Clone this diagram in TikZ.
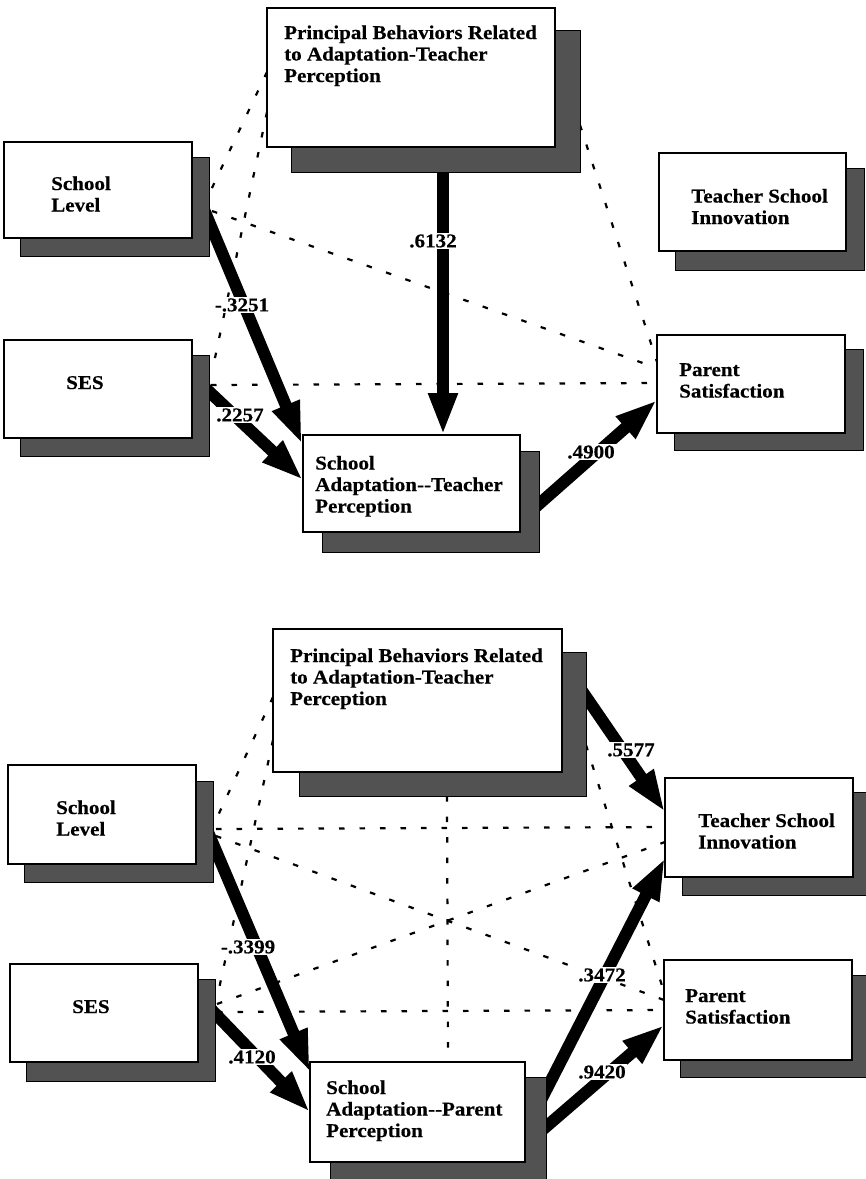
\documentclass[tikz,border=0pt]{standalone}
\usepackage{fontspec}
\setmainfont{Liberation Serif}[FakeStretch=1.08, BoldFeatures={FakeBold=0.4}]
\usetikzlibrary{arrows.meta,calc}
\pgfdeclarelayer{bg}
\pgfsetlayers{bg,main}
\tikzset{
  boxn/.style={draw=black, line width=1.4pt, fill=white, inner sep=0pt, outer sep=0pt, anchor=north west},
  shadn/.style={draw=black, line width=0.8pt, fill=black!68, inner sep=0pt, outer sep=0pt, anchor=north west},
  txt/.style={font=\bfseries\fontsize{19.5}{21.5}\selectfont, inner sep=0pt, anchor=base west},
  lab/.style={font=\bfseries\fontsize{19.5}{21.5}\selectfont, fill=white, inner sep=1.5pt},
  corr/.style={line width=2.2pt, dash pattern=on 5.5pt off 15pt},
  eff/.style={line width=12pt, -{Triangle[length=42pt,width=27pt]}},
}
\newcommand\shbox[9]{%
  \node[shadn, minimum width={(#8-#6)*1pt}, minimum height={(#9-#7)*1pt}] (#1s) at (#6,#7) {};
  \node[boxn, minimum width={(#4-#2)*1pt}, minimum height={(#5-#3)*1pt}] (#1) at (#2,#3) {};
}
\newcommand\ml[1]{\begin{tabular}[t]{@{}l@{}}#1\end{tabular}}
\begin{document}
\begin{tikzpicture}[x=1pt,y=-1pt]
\useasboundingbox (0,0) rectangle (866,1179);
% ---------------- top diagram ----------------
\shbox{pa}{267}{8}{555}{147}{291}{30}{580}{172}
\shbox{sla}{4}{142}{192}{238}{20}{157}{209}{256}
\shbox{sesa}{4}{340}{192}{438}{20}{355}{209}{456}
\shbox{tsia}{659}{153}{846}{251}{675}{168}{864}{270}
\shbox{psa}{657}{335}{845}{433}{674}{349}{863}{450}
\shbox{saa}{303}{435}{520}{532}{322}{451}{539}{552}
\node[txt] (tpa) at ($(pa.north west)+(17,31)$) {\ml{Principal Behaviors Related\\to Adaptation-Teacher\\Perception}};
\node[txt] (tsla) at ($(sla.north west)+(47,48)$) {\ml{School\\Level}};
\node[txt] (tsesa) at ($(sesa.north west)+(62,49)$) {SES};
\node[txt] (ttsia) at ($(tsia.north west)+(32,49.5)$) {\ml{Teacher School\\Innovation}};
\node[txt] (tpsa) at ($(psa.north west)+(22,41)$) {\ml{Parent\\Satisfaction}};
\node[txt] (tsaa) at ($(saa.north west)+(12,34.5)$) {\ml{School\\Adaptation-\kern0pt-Teacher\\Perception}};
\begin{pgfonlayer}{bg}
  \draw[corr] ($(pa.north west)+(0,64)$) -- ($(slas.north east)+(2,33)$);
  \draw[corr] ($(pa.north west)+(0,104)$) -- ($(sesas.north east)+(3,17)$);
  \draw[corr] ($(slas.north east)+(3,54)$) -- ($(psa.north west)+(0,33)$);
  \draw[corr] ($(sesas.north east)+(2,30)$) -- ($(psa.north west)+(0,48)$);
  \draw[corr] ($(pas.north east)+(0,95)$) -- ($(psa.north west)+(0,27)$);
  \draw[eff] ($(pas.south west)+(152,-4)$) -- ($(saa.north west)+(140,0)$);
  \draw[eff] ($(slas.north east)+(-9,43)$) -- ($(saa.north west)+(-1,9)$);
  \draw[eff] ($(sesas.north east)+(-9,28)$) -- ($(saa.north west)+(0,45)$);
  \draw[eff] ($(saas.north east)+(-9,61)$) -- ($(psa.north west)+(0,65)$);
\end{pgfonlayer}
\node[lab] (la1) at (433,241) {.6132};
\node[lab] (la2) at (242,305) {-.3251};
\node[lab] (la3) at (240,415) {.2257};
\node[lab] (la4) at (591,452) {.4900};
% ---------------- bottom diagram ----------------
\shbox{pb}{273}{629}{562}{772}{299}{652}{586}{796}
\shbox{slb}{8}{765}{196}{864}{24}{781}{213}{882}
\shbox{sesb}{10}{964}{198}{1062}{26}{979}{215}{1081}
\shbox{tsib}{665}{778}{853}{877}{682}{792}{872}{895}
\shbox{psb}{664}{960}{852}{1060}{680}{975}{870}{1077}
\shbox{sab}{310}{1062}{525}{1162}{330}{1077}{546}{1184}
\node[txt] (tpb) at ($(pb.north west)+(17,33)$) {\ml{Principal Behaviors Related\\to Adaptation-Teacher\\Perception}};
\node[txt] (tslb) at ($(slb.north west)+(48,49)$) {\ml{School\\Level}};
\node[txt] (tsesb) at ($(sesb.north west)+(62,49)$) {SES};
\node[txt] (ttsib) at ($(tsib.north west)+(33,49)$) {\ml{Teacher School\\Innovation}};
\node[txt] (tpsb) at ($(psb.north west)+(21,42)$) {\ml{Parent\\Satisfaction}};
\node[txt] (tsab) at ($(sab.north west)+(16,32)$) {\ml{School\\Adaptation-\kern0pt-Parent\\Perception}};
\begin{pgfonlayer}{bg}
  \draw[corr] ($(pb.north west)+(0,68)$) -- ($(slbs.north east)+(2,41)$);
  \draw[corr] ($(pb.north west)+(0,111)$) -- ($(sesbs.north east)+(2,19)$);
  \draw[corr] ($(slbs.north east)+(3,48)$) -- ($(tsib.north west)+(0,49)$);
  \draw[corr] ($(slbs.north east)+(3,55)$) -- ($(psb.north west)+(0,40)$);
  \draw[corr] ($(sesbs.north east)+(2,25)$) -- ($(tsib.north west)+(0,64)$);
  \draw[corr] ($(sesbs.north east)+(2,33)$) -- ($(psb.north west)+(0,50)$);
  \draw[corr] ($(pbs.south west)+(148,0)$) -- ($(sab.north west)+(138,0)$);
  \draw[corr] ($(pbs.north east)+(0,93)$) -- ($(psb.north west)+(0,32)$);
  \draw[eff] ($(pbs.north east)+(-6,36)$) -- ($(tsib.north west)+(0,34)$);
  \draw[eff] ($(slbs.north east)+(-8,44)$) -- ($(sab.north west)+(0,10)$);
  \draw[eff] ($(sesbs.north east)+(-8,26)$) -- ($(sab.north west)+(0,50)$);
  \draw[eff] ($(sabs.north east)+(-6,25)$) -- ($(tsib.north west)+(0,80)$);
  \draw[eff] ($(sabs.north east)+(-6,55)$) -- ($(psb.north west)+(0,65)$);
\end{pgfonlayer}
\node[lab] (lb1) at (631,750) {.5577};
\node[lab] (lb2) at (248,947) {-.3399};
\node[lab] (lb3) at (252,1057) {.4120};
\node[lab] (lb4) at (602,975) {.3472};
\node[lab] (lb5) at (602,1072) {.9420};
\end{tikzpicture}
\end{document}
